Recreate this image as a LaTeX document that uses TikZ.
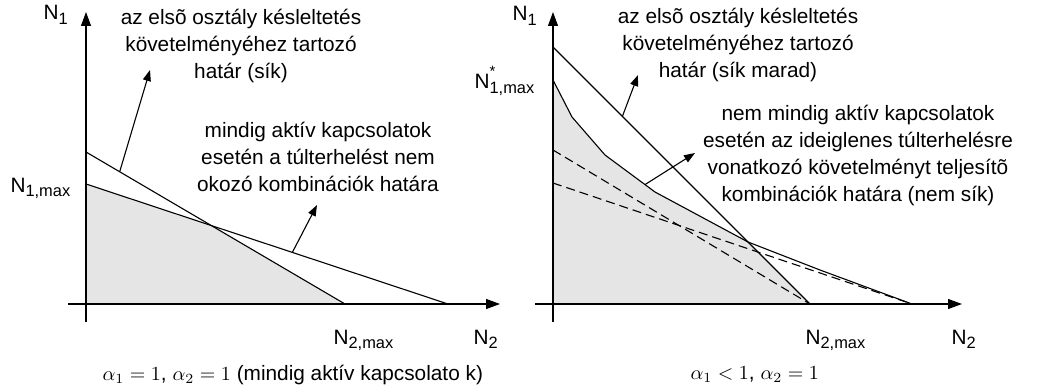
\documentclass[tikz,border=0pt]{standalone}
\usepackage{fontspec}
\setmainfont{Liberation Sans}
\usetikzlibrary{arrows.meta}
\newcommand{\ix}[1]{\raisebox{-0.4ex}{\fontsize{8.2}{8.2}\selectfont #1}}
\newcommand{\ixs}[1]{\rlap{\raisebox{1.1ex}{\fontsize{7.5}{7.5}\selectfont *}}\ix{#1}}

\begin{document}
\begin{tikzpicture}[x=0.5pt,y=-0.5pt,line width=0.55pt,
  axis/.style={-{Triangle[length=7pt,width=5pt]}},
  pointer/.style={-{Triangle[length=5.5pt,width=4pt]}},
  region/.style={fill=black!10,draw=none},
  soft/.style={dash pattern=on 4.5pt off 2.5pt},
  tag/.style={font=\fontsize{10.4}{13.5}\selectfont,inner sep=0pt},
  note/.style={tag,align=center}]
 \useasboundingbox (0,0) rectangle (1060,390);

 % left: alpha_1 = alpha_2 = 1
 \coordinate (ya1) at (86,322);  \coordinate (yb1) at (86,12);
 \coordinate (xa1) at (68,304);  \coordinate (xb1) at (500,304);
 \coordinate (o1) at (86,304);
 \coordinate (d1) at (86,152);   \coordinate (d2) at (345,304);
 \coordinate (t1) at (86,184);   \coordinate (t2) at (448,304);
 \fill[region] (o1) -- (t1) -- (intersection of t1--t2 and d1--d2) -- (d2) -- cycle;
 \draw[axis] (ya1) -- (yb1);
 \draw[axis] (xa1) -- (xb1);
 \draw (d1) -- (d2);
 \draw (t1) -- (t2);
 \path (d1) -- (d2) coordinate[pos=0.13] (p1);
 \path (t1) -- (t2) coordinate[pos=0.57] (p2);
 \coordinate (h1) at (150,70);
 \coordinate (h2) at (317,205);
 \draw[pointer] (p1) -- (h1);
 \draw[pointer] (p2) -- (h2);
 \node[tag,anchor=base west] (n1l) at (43,20) {N\ix{1}};
 \node[tag,anchor=base west] (n1m) at (10,192) {N\ix{1,max}};
 \node[tag,anchor=base west] (n2m) at (333,344) {N\ix{2,max}};
 \node[tag,anchor=base west] (n2l) at (473,344) {N\ix{2}};
 \node[note] (delayA) at (241,46) {az elsõ osztály késleltetés\\követelményéhez tartozó\\határ (sík)};
 \node[note] (overA) at (318,157) {mindig aktív kapcsolatok\\esetén a túlterhelést nem\\okozó kombinációk határa};
 \node[tag,anchor=base west] (capA) at (102,380)
   {$\alpha_1=1$, $\alpha_2=1$ (mindig aktív kapcsolato k)};

 % right: alpha_1 < 1, alpha_2 = 1
 \coordinate (ya2) at (553,322); \coordinate (yb2) at (553,12);
 \coordinate (xa2) at (535,304); \coordinate (xb2) at (962,304);
 \coordinate (o2) at (553,304);
 \coordinate (e1) at (553,47);   \coordinate (e2) at (810,304);
 \coordinate (q0) at (553,80);   \coordinate (q1) at (572,117);
 \coordinate (q2) at (605,155);  \coordinate (q3) at (655,192);
 \coordinate (q4) at (748,242);  \coordinate (q5) at (820,270);
 \coordinate (q6) at (912,304);
 \coordinate (s1) at (553,150);  \coordinate (s2) at (553,183);
 \fill[region] (o2) -- (q0) -- (q1) -- (q2) -- (q3) -- (q4) -- (e2) -- cycle;
 \draw[axis] (ya2) -- (yb2);
 \draw[axis] (xa2) -- (xb2);
 \draw (e1) -- (e2);
 \draw (q0) -- (q1) -- (q2) -- (q3) -- (q4) -- (q5) -- (q6);
 \draw[soft] (s1) -- (e2);
 \draw[soft] (s2) -- (q6);
 \path (e1) -- (e2) coordinate[pos=0.27] (p3);
 \path (q2) -- (q3) coordinate[pos=0.8] (p4);
 \coordinate (h3) at (638,75);
 \coordinate (h4) at (695,153);
 \draw[pointer] (p3) -- (h3);
 \draw[pointer] (p4) -- (h4);
 \node[tag,anchor=base west] (n1r) at (512,21) {N\ix{1}};
 \node[tag,anchor=base west] (n1s) at (474,89) {N\ixs{1,max}};
 \node[tag,anchor=base west] (n2s) at (805,344) {N\ix{2,max}};
 \node[tag,anchor=base west] (n2r) at (951,344) {N\ix{2}};
 \node[note] (delayB) at (738,45) {az elsõ osztály késleltetés\\követelményéhez tartozó\\határ (sík marad)};
 \node[note] (overB) at (858,155) {nem mindig aktív kapcsolatok\\esetén az ideiglenes túlterhelésre\\vonatkozó követelményt teljesítõ\\kombinációk határa (nem sík)};
 \node[tag,anchor=base west] (capB) at (690,379) {$\alpha_1<1$, $\alpha_2=1$};
\end{tikzpicture}
\end{document}
